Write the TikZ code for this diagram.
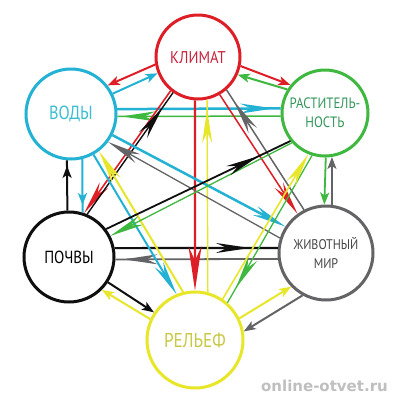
\documentclass[tikz,border=0pt]{standalone}
\usepackage{fontspec}
\newfontfamily\lab{PT Sans}[FakeStretch=0.86]
\newfontfamily\wmfont{DejaVu Sans}
\usetikzlibrary{arrows.meta,decorations.markings}
\definecolor{cR}{RGB}{222,30,38}
\definecolor{cC}{RGB}{35,178,212}
\definecolor{cG}{RGB}{62,184,62}
\definecolor{cK}{RGB}{15,15,15}
\definecolor{cGy}{RGB}{100,100,102}
\definecolor{cY}{RGB}{232,230,40}
\definecolor{tR}{RGB}{200,35,60}
\definecolor{tC}{RGB}{60,190,210}
\definecolor{tG}{RGB}{50,150,90}
\definecolor{tGy}{RGB}{70,70,70}
\definecolor{tY}{RGB}{200,200,70}
\tikzset{
  lh/.tip={Stealth[length=34pt,width=10pt,inset=11pt]},
  bh/.tip={Stealth[length=44pt,width=13pt,inset=14pt]},
  sh/.tip={Stealth[length=12pt,width=9pt,inset=3pt]},
  midl/.style={postaction={decorate,decoration={markings,mark=at position #1 with {\arrow{lh}}}}},
  mids/.style={postaction={decorate,decoration={markings,mark=at position #1 with {\arrow{sh}}}}},
  hub/.style={circle, line width=3pt, minimum size=#1, inner sep=0pt, fill=white, align=center},
  adj/.style={line width=2pt, -sh},
  diag/.style={line width=#1, -lh},
  diagm/.style={line width=#1},
  wmark/.style={font=\wmfont\bfseries\fontsize{15}{16}\selectfont},
}
\begin{document}
\begin{tikzpicture}[x=1pt,y=-1pt]
\useasboundingbox (0,0) rectangle (400,400);
\fill[white] (0,0) rectangle (400,400);
% nodes
\node[hub=84pt, draw=cR, text=tR, font=\lab\fontsize{17}{19}\selectfont] (K) at (198,57) {КЛИМАТ};
\node[hub=90pt, draw=cC, text=tC, font=\lab\fontsize{19}{20}\selectfont] (V) at (71,114) {ВОДЫ};
\node[hub=86pt, draw=cG, text=tG, font=\lab\fontsize{15}{19}\selectfont] (R) at (325,113) {РАСТИТЕЛЬ-\\НОСТЬ};
\node[hub=90pt, draw=cK, text=black, font=\lab\fontsize{17.5}{19}\selectfont] (P) at (69,257) {ПОЧВЫ};
\node[hub=94pt, draw=cGy, text=tGy, font=\lab\fontsize{14}{19}\selectfont] (Z) at (326,253) {ЖИВОТНЫЙ\\МИР};
\node[hub=96pt, draw=cY, text=tY, font=\lab\fontsize{20}{21}\selectfont] (L) at (195,340) {РЕЛЬЕФ};
% adjacent pairs
\draw[cR, adj] (K.190) -- (V.38);
\draw[cC, adj] (V.26) -- (K.202);
\draw[cR, adj] (K.348) -- (R.141);
\draw[cG, adj] (R.148) -- (K.336);
\draw[cC, line width=2pt, mids=0.86] (V.284) -- (P.73);
\draw[cK, line width=2pt, mids=0.89] (P.92) -- (V.265);
\draw[cG, line width=1.8pt, -sh] (R.271) -- (Z.92);
\draw[cGy, line width=1.8pt, -sh] (Z.83) -- (R.279);
\draw[cK, adj] (P.327) -- (L.146);
\draw[cY, adj] (L.155) -- (P.315);
\draw[cGy, adj] (Z.241) -- (L.10);
\draw[cY, adj] (L.26) -- (Z.224);
% horizontals
\draw[cC, line width=2.5pt, midl=0.96] (V.6) -- (R.174);
\draw[cG, line width=1.5pt, midl=0.975] (R.184) -- (V.357);
\draw[cK, line width=2.2pt, midl=0.83] (P.11.5) -- (Z.174);
\draw[cGy, line width=1.8pt, midl=0.95] (Z.187) -- (P.357.5);
% verticals
\draw[cR, line width=2.2pt, -bh] (K.266) -- (L.90);
\draw[cY, line width=1.4pt, midl=0.95] (L.75) -- (K.282);
% diagonals
\draw[cR, diag=1.6pt] (K.231) -- (P.71);
\draw[cK, diagm=1.4pt, midl=0.88] (P.67) -- (K.235);
\draw[cR, diag=1.5pt] (K.300) -- (Z.126);
\draw[cGy, diagm=1.5pt, midl=0.9] (Z.117) -- (K.311);
\draw[cC, diag=2.5pt] (V.333) -- (Z.147.5);
\draw[cGy, diag=1.3pt] (Z.162) -- (V.323);
\draw[cC, diag=2pt] (V.299) -- (L.112);
\draw[cY, diag=2pt] (L.104) -- (V.307);
\draw[cG, diag=1.3pt] (R.222) -- (P.27);
\draw[cK, diagm=1.8pt, midl=0.83] (P.37) -- (R.219);
\draw[cG, diagm=1.3pt, midl=0.9] (R.253) -- (L.49);
\draw[cY, diag=1.6pt] (L.56) -- (R.248);
% watermark
\node[wmark, text=black!25] (w) at (324.5,385.5) {online-otvet.ru};
\end{tikzpicture}
\end{document}
